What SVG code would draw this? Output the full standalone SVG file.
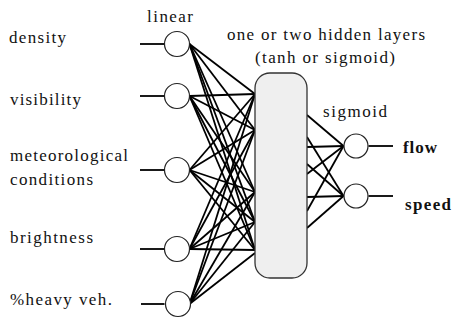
<svg xmlns="http://www.w3.org/2000/svg" width="452" height="320" viewBox="0 0 452 320">
<style>
.t{font-size:17px;fill:#111}
.b{font-weight:bold}
.node{fill:#fff;stroke:#222;stroke-width:1.2}
.c line{stroke:#000;stroke-width:1.8}
.lead{stroke:#000;stroke-width:2}
.box{fill:#efefef;stroke:#333;stroke-width:1.3}
</style>
<rect width="452" height="320" fill="#fff"/>
<g class="c" id="connectors">
<line x1="189.5" y1="44" x2="255" y2="94"/>
<line x1="189.5" y1="44" x2="255" y2="130"/>
<line x1="189.5" y1="44" x2="255" y2="192"/>
<line x1="189.5" y1="44" x2="255" y2="222"/>
<line x1="189.5" y1="44" x2="255" y2="250"/>
<line x1="189.5" y1="96" x2="255" y2="94"/>
<line x1="189.5" y1="96" x2="255" y2="130"/>
<line x1="189.5" y1="96" x2="255" y2="192"/>
<line x1="189.5" y1="96" x2="255" y2="222"/>
<line x1="189.5" y1="96" x2="255" y2="250"/>
<line x1="189.5" y1="170" x2="255" y2="94"/>
<line x1="189.5" y1="170" x2="255" y2="130"/>
<line x1="189.5" y1="170" x2="255" y2="192"/>
<line x1="189.5" y1="170" x2="255" y2="222"/>
<line x1="189.5" y1="170" x2="255" y2="250"/>
<line x1="189.5" y1="249" x2="255" y2="94"/>
<line x1="189.5" y1="249" x2="255" y2="130"/>
<line x1="189.5" y1="249" x2="255" y2="192"/>
<line x1="189.5" y1="249" x2="255" y2="222"/>
<line x1="189.5" y1="249" x2="255" y2="250"/>
<line x1="189.5" y1="304" x2="255" y2="94"/>
<line x1="189.5" y1="304" x2="255" y2="130"/>
<line x1="189.5" y1="304" x2="255" y2="192"/>
<line x1="189.5" y1="304" x2="255" y2="222"/>
<line x1="189.5" y1="304" x2="255" y2="253"/>
<line x1="307" y1="115" x2="343.5" y2="146"/>
<line x1="307" y1="147" x2="343.5" y2="146"/>
<line x1="307" y1="174" x2="343.5" y2="146"/>
<line x1="307" y1="211" x2="343.5" y2="146"/>
<line x1="307" y1="137" x2="343.5" y2="196"/>
<line x1="307" y1="164" x2="343.5" y2="196"/>
<line x1="307" y1="197" x2="343.5" y2="196"/>
<line x1="307" y1="228" x2="343.5" y2="196"/>
<line class="lead" x1="140" y1="44" x2="164.5" y2="44"/>
<line class="lead" x1="140" y1="96" x2="164.5" y2="96"/>
<line class="lead" x1="140" y1="170" x2="164.5" y2="170"/>
<line class="lead" x1="140" y1="249" x2="164.5" y2="249"/>
<line class="lead" x1="141" y1="304" x2="164.5" y2="304"/>
<line class="lead" x1="368.5" y1="146" x2="393" y2="146"/>
<line class="lead" x1="368.5" y1="196" x2="393" y2="196"/>
</g>
<g font-family="Liberation Serif, serif">
<g id="hidden"><rect class="box" x="255" y="73" width="52" height="205" rx="15"/>
<text class="t" x="227" y="40" textLength="198">one or two hidden layers</text>
<text class="t" x="255" y="63" textLength="140">(tanh or sigmoid)</text></g>
<g id="in-density"><circle class="node" cx="177" cy="44" r="12.5"/><text class="t" x="9" y="43" textLength="57">density</text></g>
<g id="in-visibility"><circle class="node" cx="177" cy="96" r="12.5"/><text class="t" x="10" y="105" textLength="71">visibility</text></g>
<g id="in-meteo"><circle class="node" cx="177" cy="170" r="12.5"/><text class="t" x="10" y="161" textLength="118">meteorological</text><text class="t" x="10" y="185" textLength="83">conditions</text></g>
<g id="in-brightness"><circle class="node" cx="177" cy="249" r="12.5"/><text class="t" x="10" y="243" textLength="83">brightness</text></g>
<g id="in-heavy"><circle class="node" cx="178" cy="304" r="12.5"/><text class="t" x="10" y="305" textLength="102">%heavy veh.</text></g>
<g id="input-label"><text class="t" x="147" y="22" textLength="46">linear</text></g>
<g id="output-label"><text class="t" x="323" y="117" textLength="64">sigmoid</text></g>
<g id="out-flow"><circle class="node" cx="356" cy="146" r="12"/><text class="t b" x="403" y="153" textLength="34">flow</text></g>
<g id="out-speed"><circle class="node" cx="356" cy="196" r="12"/><text class="t b" x="405" y="210" textLength="46">speed</text></g>
</g>
</svg>
